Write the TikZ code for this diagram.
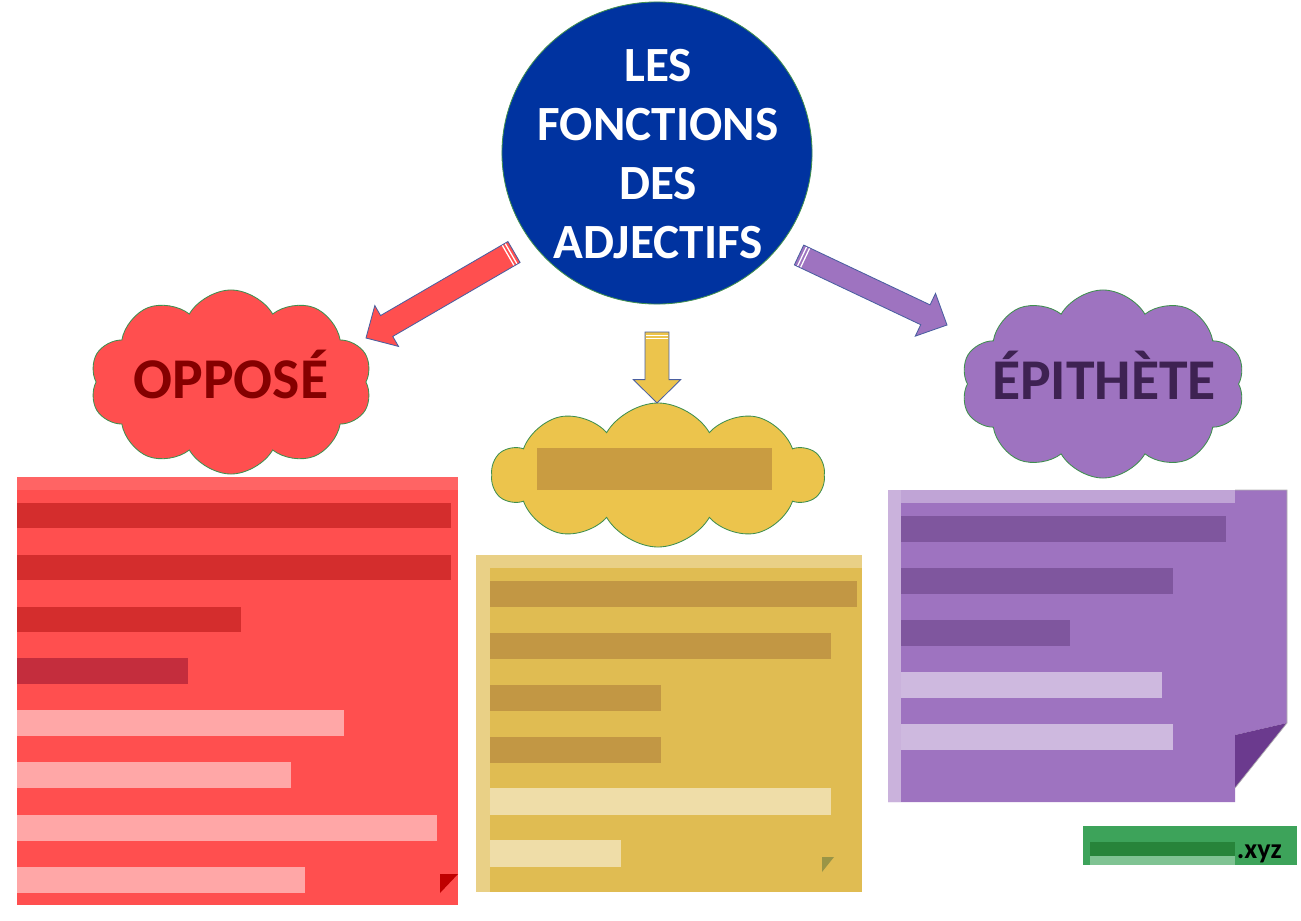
\documentclass[tikz,border=0pt]{standalone}
\usepackage{fontspec}
\setmainfont{Carlito}
\usetikzlibrary{shapes.symbols,shapes.geometric,calc}
\definecolor{adjblue}{HTML}{0033A0}
\definecolor{adjred}{HTML}{FF4F4F}
\definecolor{adjyellow}{HTML}{ECC44C}
\definecolor{adjgold}{HTML}{E0BC52}
\definecolor{adjpurple}{HTML}{9E73C0}
\definecolor{adjfold}{HTML}{6B3A8E}
\definecolor{adjgreen}{HTML}{3DA35A}
\definecolor{cloudedge}{HTML}{3F8F4F}
\definecolor{arrowedge}{HTML}{4A5FA0}
% block arrow: tail, tip, half shaft, half head, head length, colour
\newcommand{\adjarrow}[6]{%
  \coordinate (ab) at ($(#2)!#5!(#1)$);
  \filldraw[fill=#6,draw=arrowedge,line width=0.6pt,line join=miter]
    ($(#1)!#3!90:(#2)$) -- ($(ab)!#3!90:(#2)$) -- ($(ab)!#4!90:(#2)$) -- (#2)
    -- ($(ab)!#4!-90:(#2)$) -- ($(ab)!#3!-90:(#2)$) -- ($(#1)!#3!-90:(#2)$) -- cycle;
  \foreach \d in {2.4pt,4.8pt}{
    \coordinate (as) at ($(#1)!\d!(#2)$);
    \draw[white,line width=0.9pt] ($(as)!#3-0.4pt!90:(#2)$) -- ($(as)!#3-0.4pt!-90:(#2)$);
  }
}
\begin{document}
\begin{tikzpicture}[x=0.025cm,y=-0.025cm,
  puff/.style={cloud,cloud puffs=10,cloud puff arc=120,cloud ignores aspect,
    draw=cloudedge,line width=0.6pt,inner sep=0pt},
  cloudtext/.style={font=\bfseries\fontsize{41}{45}\selectfont,anchor=base},
  blurdark/.style={opacity=0.42},
  blurlight/.style={opacity=0.5}]
\useasboundingbox (0,0) rectangle (1301,920);

% centre
\node[ellipse,fill=adjblue,draw=cloudedge,line width=0.6pt,
  minimum width=7.75cm,minimum height=7.55cm] (adj) at (657,153) {};
\node[text=white,align=center,font=\bfseries\fontsize{35}{42}\selectfont]
  (adjT) at (658,154) {LES\\FONCTIONS\\DES\\ADJECTIFS};

% clouds
\node[puff,fill=adjred,minimum width=7.05cm,minimum height=4.6cm] (opp) at (231,382) {};
\node[cloudtext,text=red!52!black] (oppT) at (231,398) {OPPOSÉ};
\node[puff,fill=adjyellow,minimum width=8.3cm,minimum height=3.6cm] (att) at (658,475) {};
\node[puff,fill=adjpurple,minimum width=7.1cm,minimum height=4.7cm] (epi) at (1103,384) {};
\node[cloudtext,text=adjfold!58!black] (epiT) at (1104,399) {ÉPITHÈTE};

% arrows
\coordinate (oppTail) at (514,252);
\coordinate (oppTip) at (366,338);
\coordinate (attTail) at (657,332);
\coordinate (attTip) at (657,403);
\coordinate (epiTail) at (799,255);
\coordinate (epiTip) at (947,325);
\adjarrow{oppTail}{oppTip}{8.6pt}{16.8pt}{17pt}{adjred}
\adjarrow{attTail}{attTip}{8.5pt}{16.8pt}{16.6pt}{adjyellow}
\adjarrow{epiTail}{epiTip}{7.8pt}{16.8pt}{17pt}{adjpurple}

% notes
\fill[adjred] (17,477) rectangle (458,905);
\fill[adjred!88!white] (17,477) rectangle (458,490);
\fill[red!75!black] (440,874) -- (458,874) -- (440,893) -- cycle;
\fill[adjgold] (485,555) rectangle (862,892);
\fill[adjgold!70!white] (485,555) rectangle (862,568);
\fill[adjgold!70!white] (476,555) rectangle (490,892);
\fill[yellow!55!black] (822,857) -- (834,857) -- (822,872) -- cycle;
\fill[adjpurple] (888,490) -- (1287,490) -- (1287,723) -- (1235,735)
  -- (1235,802) -- (888,802) -- cycle;
\fill[adjpurple!65!white] (888,490) rectangle (1235,503);
\fill[adjpurple!55!white] (888,490) rectangle (901,802);
\fill[adjfold] (1287,723) -- (1235,735) -- (1235,788) -- cycle;
\draw[gray!60,line width=0.5pt] (1235,490) -- (1287,490) -- (1287,723) -- (1235,788);

% blurred lines
\foreach \y/\xe in {503/451,555/451,607/241}
  \fill[red!60!black,blurdark] (17,\y) rectangle (\xe,\y+25);
\fill[purple!60!black,blurdark] (17,658) rectangle (188,684);
\foreach \y/\xe in {710/344,762/291,815/437,867/305}
  \fill[white,blurlight] (17,\y) rectangle (\xe,\y+26);
\foreach \y/\xe in {581/857,633/831,685/661,737/661}
  \fill[brown!80!black,blurdark] (490,\y) rectangle (\xe,\y+26);
\foreach \y/\xe in {788/831,840/621}
  \fill[white,blurlight] (490,\y) rectangle (\xe,\y+27);
\fill[brown!80!black,blurdark] (537,448) rectangle (772,490);
\foreach \y/\xe in {516/1226,568/1173,620/1070}
  \fill[adjfold!80!black,blurdark] (901,\y) rectangle (\xe,\y+26);
\foreach \y/\xe in {672/1162,724/1173}
  \fill[white,blurlight] (901,\y) rectangle (\xe,\y+26);

% site tag
\fill[adjgreen] (1083,826) rectangle (1297,865);
\fill[green!30!black,opacity=0.35] (1090,842) rectangle (1235,856);
\fill[white,opacity=0.35] (1090,856) rectangle (1235,865);
\node[anchor=base east,font=\bfseries\fontsize{20}{24}\selectfont,inner sep=0pt]
  (tag) at (1282,858) {.xyz};
\end{tikzpicture}
\end{document}
